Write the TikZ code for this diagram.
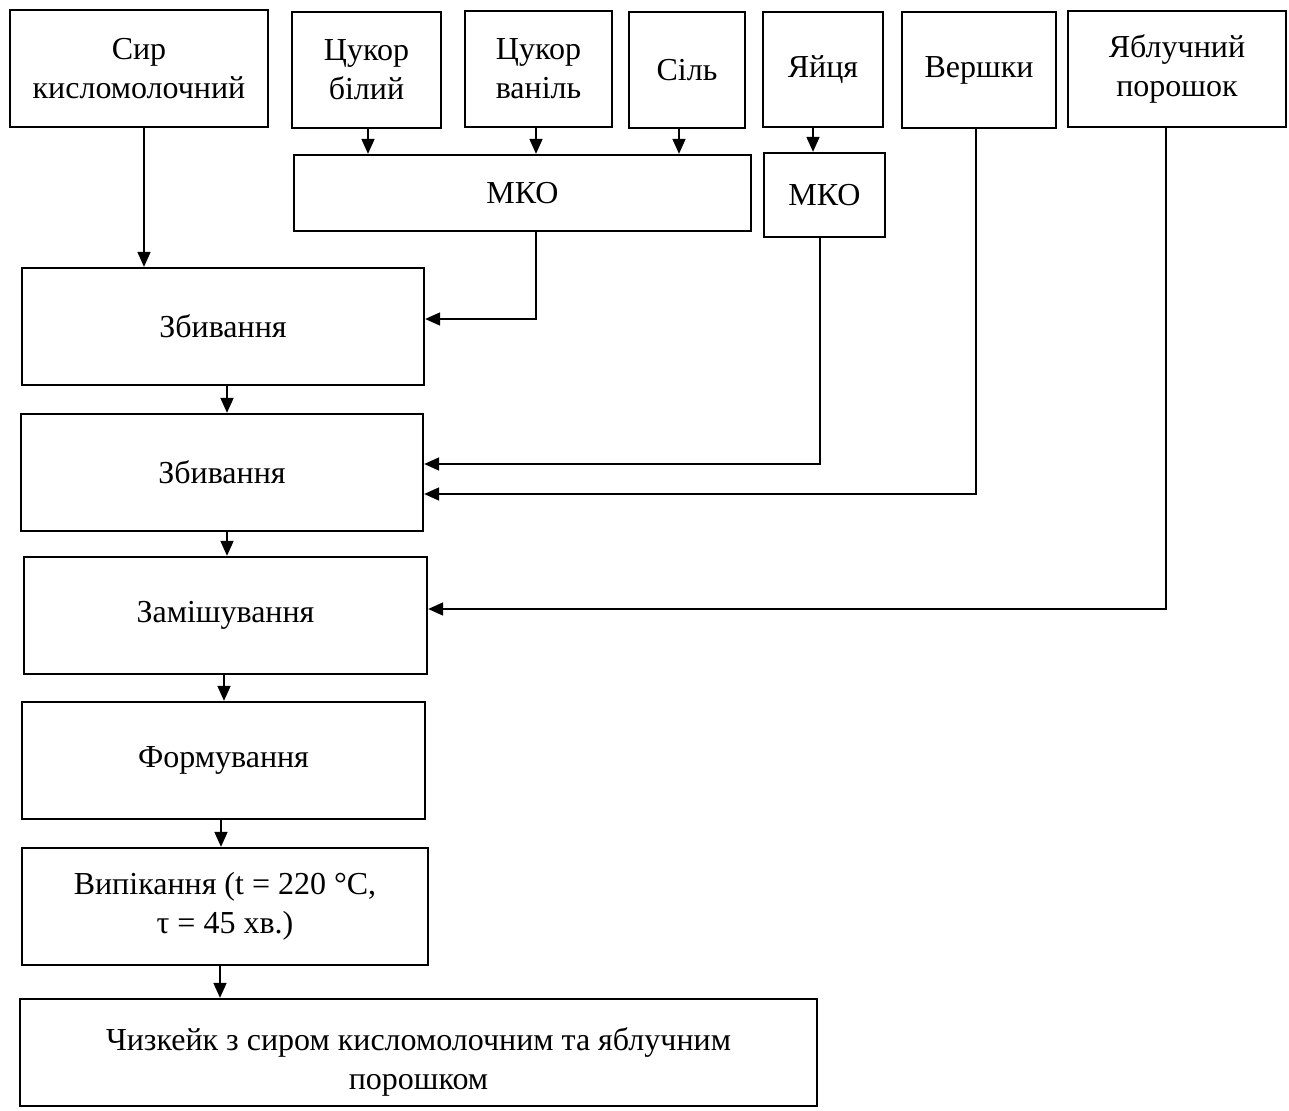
\documentclass[tikz,border=0pt]{standalone}
\usepackage{fontspec}
\setmainfont{Liberation Serif}
\usetikzlibrary{arrows.meta}
\begin{document}
\begin{tikzpicture}[x=1pt,y=-1pt,
  box/.style={draw, line width=2.3pt, rectangle, inner sep=0pt, align=center,
    font=\fontsize{32}{39}\selectfont},
  arr/.style={line width=1.7pt, -{Triangle[length=15pt,width=13pt]}}]
\useasboundingbox (0,0) rectangle (1289,1110);
% top row
\node[box, minimum width=258pt, minimum height=117pt] (sir) at (139,68.5) {Сир\\кисломолочний};
\node[box, minimum width=149pt, minimum height=116pt] (cb) at (366.5,70) {Цукор\\білий};
\node[box, minimum width=147pt, minimum height=116pt] (cv) at (538.5,69) {Цукор\\ваніль};
\node[box, minimum width=116pt, minimum height=116pt] (sil) at (687,70) {Сіль};
\node[box, minimum width=120pt, minimum height=115pt] (yay) at (823,69.5) {Яйця};
\node[box, minimum width=154pt, minimum height=116pt] (ver) at (979,70) {Вершки};
\node[box, minimum width=218pt, minimum height=116pt] (yab) at (1177,69) {Яблучний\\порошок};
% MKO
\node[box, minimum width=457pt, minimum height=76pt] (mko1) at (522.5,193) {МКО};
\node[box, minimum width=121pt, minimum height=84pt] (mko2) at (824.5,195) {МКО};
% process column
\node[box, minimum width=402pt, minimum height=117pt] (zb1) at (223,326.5) {Збивання};
\node[box, minimum width=402pt, minimum height=117pt] (zb2) at (222,472.5) {Збивання};
\node[box, minimum width=403pt, minimum height=117pt] (zam) at (225.5,615.5) {Замішування};
\node[box, minimum width=403pt, minimum height=117pt] (form) at (223.5,760.5) {Формування};
\node[box, minimum width=406pt, minimum height=117pt] (vyp) at (225,906.5) {Випікання (t = 220 °C,\\τ = 45 хв.)};
\node[box, minimum width=797pt, minimum height=107pt] (chz) at (418.5,1052.5) {\begin{tabular}{@{}c@{}}\rule{0pt}{47pt}Чизкейк з сиром кисломолочним та яблучним\\порошком\end{tabular}};
% connectors
\draw[arr] ([xshift=5pt]sir.south) -- ([xshift=5pt]sir.south |- zb1.north);
\draw[arr] ([xshift=1.5pt]cb.south) -- ([xshift=1.5pt]cb.south |- mko1.north);
\draw[arr] ([xshift=-2.5pt]cv.south) -- ([xshift=-2.5pt]cv.south |- mko1.north);
\draw[arr] ([xshift=-8pt]sil.south) -- ([xshift=-8pt]sil.south |- mko1.north);
\draw[arr] ([xshift=-10pt]yay.south) -- ([xshift=-10pt]yay.south |- mko2.north);
\draw[arr] ([xshift=13.5pt]mko1.south) |- ([yshift=7.5pt]zb1.east);
\draw[arr] ([xshift=-4.5pt]mko2.south) |- ([yshift=8.5pt]zb2.east);
\draw[arr] ([xshift=-3pt]ver.south) |- ([yshift=-21.5pt]zb2.east);
\draw[arr] ([xshift=-11pt]yab.south) |- ([yshift=6.5pt]zam.east);
\draw[arr] ([xshift=4pt]zb1.south) -- ([xshift=4pt]zb1.south |- zb2.north);
\draw[arr] ([xshift=5pt]zb2.south) -- ([xshift=5pt]zb2.south |- zam.north);
\draw[arr] ([xshift=-1.5pt]zam.south) -- ([xshift=-1.5pt]zam.south |- form.north);
\draw[arr] ([xshift=-2.5pt]form.south) -- ([xshift=-2.5pt]form.south |- vyp.north);
\draw[arr] ([xshift=-5pt]vyp.south) -- ([xshift=-5pt]vyp.south |- chz.north);
\end{tikzpicture}
\end{document}
